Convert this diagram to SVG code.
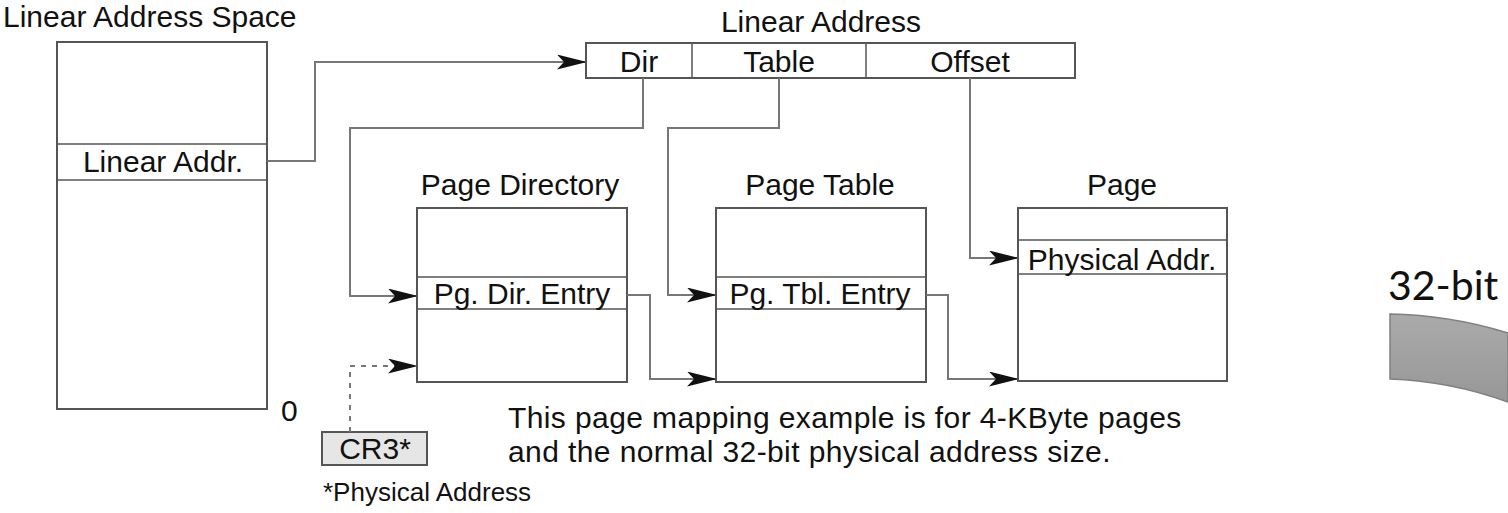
<svg xmlns="http://www.w3.org/2000/svg" width="1508" height="513" viewBox="0 0 1508 513">
  <style>
    .lbl { font-family: "Liberation Sans", Arial, sans-serif; font-size: 30px; fill: #111; }
    .mid { text-anchor: middle; }
    .box { fill: #fff; stroke: #555; stroke-width: 2; }
    .div { stroke: #555; stroke-width: 1.5; fill: none; }
    .wire { fill: none; stroke: #777; stroke-width: 2; }
    .dash { fill: none; stroke: #777; stroke-width: 2; stroke-dasharray: 5 6; }
    .note { letter-spacing: 0.4px; }
  </style>
  <defs>
    <marker id="head" viewBox="0 0 30 15" refX="29" refY="7.5" markerWidth="30" markerHeight="15" markerUnits="userSpaceOnUse" orient="auto">
      <path d="M0,0 L30,7.5 L0,15 L7,7.5 Z" fill="#111"/>
    </marker>
    <linearGradient id="arcFill" x1="0" y1="0" x2="0" y2="1">
      <stop offset="0" stop-color="#aaaaaa"/>
      <stop offset="1" stop-color="#979797"/>
    </linearGradient>
  </defs>

  <!-- linear address space -->
  <g id="linear-space">
    <text class="lbl" x="3" y="27">Linear Address Space</text>
    <rect class="box" x="57" y="42" width="210" height="367"/>
    <line class="div" x1="57" y1="144" x2="267" y2="144"/>
    <line class="div" x1="57" y1="180" x2="267" y2="180"/>
    <text class="lbl mid" x="163" y="172">Linear Addr.</text>
    <text class="lbl" x="281" y="421">0</text>
  </g>

  <!-- linear address split into fields -->
  <g id="linear-address">
    <text class="lbl mid" x="821" y="32">Linear Address</text>
    <rect class="box" x="586" y="43" width="489" height="35"/>
    <line class="div" x1="692" y1="43" x2="692" y2="78"/>
    <line class="div" x1="866" y1="43" x2="866" y2="78"/>
    <text class="lbl mid" x="639" y="72">Dir</text>
    <text class="lbl mid" x="779" y="72">Table</text>
    <text class="lbl mid" x="970" y="72">Offset</text>
  </g>

  <g id="page-directory">
    <text class="lbl mid" x="520" y="195">Page Directory</text>
    <rect class="box" x="417" y="208" width="210" height="174"/>
    <line class="div" x1="417" y1="277" x2="627" y2="277"/>
    <line class="div" x1="417" y1="309" x2="627" y2="309"/>
    <text class="lbl mid" x="522" y="304">Pg. Dir. Entry</text>
  </g>

  <g id="page-table">
    <text class="lbl mid" x="820" y="195">Page Table</text>
    <rect class="box" x="716" y="208" width="210" height="174"/>
    <line class="div" x1="716" y1="277" x2="926" y2="277"/>
    <line class="div" x1="716" y1="309" x2="926" y2="309"/>
    <text class="lbl mid" x="820" y="304">Pg. Tbl. Entry</text>
  </g>

  <g id="page">
    <text class="lbl mid" x="1122" y="195">Page</text>
    <rect class="box" x="1018" y="208" width="209" height="173"/>
    <line class="div" x1="1018" y1="240" x2="1227" y2="240"/>
    <line class="div" x1="1018" y1="274" x2="1227" y2="274"/>
    <text class="lbl mid" x="1122" y="270">Physical Addr.</text>
  </g>

  <g id="cr3">
    <rect x="322" y="432" width="105" height="33" fill="#e6e6e6" stroke="#555" stroke-width="2"/>
    <text class="lbl mid" x="375" y="459">CR3*</text>
    <text class="lbl" x="323" y="501" style="font-size:26px">*Physical Address</text>
  </g>

  <g id="note">
    <text class="lbl note" x="508" y="428">This page mapping example is for 4-KByte pages</text>
    <text class="lbl note" x="508" y="462">and the normal 32-bit physical address size.</text>
  </g>

  <!-- connectors -->
  <g id="connectors">
    <path class="wire" d="M267,161 H315 V62 H586" marker-end="url(#head)"/>
    <path class="wire" d="M643,78 V128 H350 V296 H417" marker-end="url(#head)"/>
    <path class="wire" d="M779,78 V128 H668 V295 H716" marker-end="url(#head)"/>
    <path class="wire" d="M970,78 V258 H1018" marker-end="url(#head)"/>
    <path class="wire" d="M627,295 H650 V379 H716" marker-end="url(#head)"/>
    <path class="wire" d="M926,295 H948 V379 H1018" marker-end="url(#head)"/>
    <path class="dash" d="M350,432 V366 H417" marker-end="url(#head)"/>
  </g>

  <!-- curved block arrow entering from the right edge -->
  <g id="bit-arrow">
    <text x="1388" y="300" style="font-family: Lato, 'Open Sans', sans-serif; font-size: 41px; fill: #111;">32-bit</text>
    <path d="M1390,314 Q1450,315 1508,333 L1508,402 Q1450,381 1390,379 Z" fill="url(#arcFill)" stroke="#808080" stroke-width="1.5"/>
  </g>
</svg>
